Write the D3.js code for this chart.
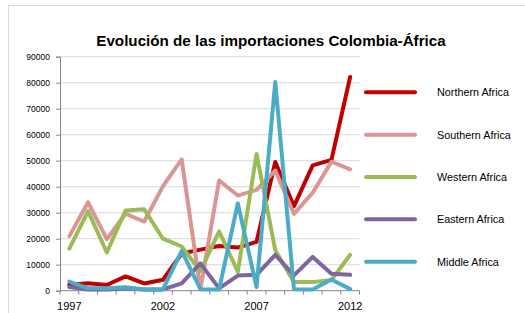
<!DOCTYPE html>
<html>
<head>
<meta charset="utf-8">
<script src="https://cdn.jsdelivr.net/npm/d3@7"></script>
<style>
  body { margin: 0; background: #fff; }
  svg { display: block; font-family: "Liberation Sans", Arial, sans-serif; }
</style>
</head>
<body>
<div id="d3"></div>
<script>
var years = ["1997","1998","1999","2000","2001","2002","2003","2004","2005","2006","2007","2008","2009","2010","2011","2012"];
var yearLabels = ["1997","2002","2007","2012"];
var yTicks = [0,10000,20000,30000,40000,50000,60000,70000,80000,90000];
var seriesNames = ["Northern Africa","Southern Africa","Western Africa","Eastern Africa","Middle Africa"];
var colors = ["#c00000","#d99694","#9bbb59","#8064a2","#4bacc6"];

var northern = [2300,2900,2200,5500,2800,4200,14300,15800,17200,16600,18800,49500,32500,48200,50300,82200];
var southern = [21000,34000,19800,29600,26600,40200,50500,500,42400,36600,38800,46200,29500,37700,49600,46700];
var western  = [16200,30600,14700,30800,31300,20000,17000,7500,22800,7300,52600,15600,3300,3300,4100,13800];
var eastern  = [1400,500,500,900,500,500,2800,10500,900,5800,6100,13800,5900,13000,6500,6100];
var middle   = [3500,900,900,1300,500,500,15300,600,500,33600,1400,80300,600,500,4300,600];

var allSeries = [northern, southern, western, eastern, middle];

var W = 525, H = 313;
var svg = d3.select("#d3").append("svg")
    .attr("width", W)
    .attr("height", H);

// chart area border
svg.append("rect")
    .attr("x", 8.5).attr("y", 5.5)
    .attr("width", 540).attr("height", 330)
    .attr("fill", "none")
    .attr("stroke", "#d9d9d9")
    .attr("stroke-width", 1);

var plotLeft = 60, plotRight = 359.5, plotTop = 56.7, plotBottom = 290.7;

var x = d3.scaleBand().domain(years).range([plotLeft, plotRight]).padding(0);
var y = d3.scaleLinear().domain([0, 90000]).range([plotBottom, plotTop]);

// gridlines
svg.append("g").selectAll("line")
    .data(yTicks.slice(1)).enter()
    .append("line")
    .attr("x1", plotLeft).attr("x2", plotRight)
    .attr("y1", function(d) { return y(d); })
    .attr("y2", function(d) { return y(d); })
    .attr("stroke", "#d9d9d9")
    .attr("stroke-width", 1);

// y axis
var yAxis = svg.append("g")
    .attr("transform", "translate(" + plotLeft + ",0)")
    .call(d3.axisLeft(y).tickValues(yTicks).tickSize(4).tickPadding(6).tickFormat(d3.format("d")));
yAxis.select(".domain").attr("stroke", "#868686");
yAxis.selectAll(".tick line").attr("stroke", "#868686");
yAxis.selectAll("text")
    .attr("font-size", "8.5px")
    .attr("font-family", "Liberation Sans, Arial, sans-serif")
    .attr("fill", "#000");

// x axis: tick marks between categories
var xAxis = svg.append("g")
    .attr("transform", "translate(0," + plotBottom + ")");
xAxis.append("line")
    .attr("x1", plotLeft).attr("x2", plotRight)
    .attr("y1", 0).attr("y2", 0)
    .attr("stroke", "#868686");
xAxis.selectAll("line.tk")
    .data(years.concat(["end"])).enter()
    .append("line")
    .attr("class", "tk")
    .attr("x1", function(d, i) { return i < years.length ? x(d) : x.range()[1]; })
    .attr("x2", function(d, i) { return i < years.length ? x(d) : x.range()[1]; })
    .attr("y1", 0).attr("y2", 4)
    .attr("stroke", "#868686");
xAxis.selectAll("text")
    .data(yearLabels).enter()
    .append("text")
    .attr("x", function(d) { return x(d) + x.bandwidth() / 2; })
    .attr("y", 19)
    .attr("text-anchor", "middle")
    .attr("font-size", "11px")
    .attr("fill", "#000")
    .text(function(d) { return d; });

// lines
var line = d3.line()
    .x(function(d, i) { return x(years[i]) + x.bandwidth() / 2; })
    .y(function(d) { return y(d); });

svg.append("g").selectAll("path")
    .data(allSeries).enter()
    .append("path")
    .attr("d", function(d) { return line(d); })
    .attr("fill", "none")
    .attr("stroke", function(d, i) { return colors[i]; })
    .attr("stroke-width", 4)
    .attr("stroke-linejoin", "round")
    .attr("stroke-linecap", "round");

// title
svg.append("text")
    .attr("x", 271)
    .attr("y", 46)
    .attr("text-anchor", "middle")
    .attr("font-size", "15.2px")
    .attr("font-weight", "bold")
    .attr("fill", "#000")
    .text("Evolución de las importaciones Colombia-África");

// legend
var ly = d3.scalePoint().domain(seriesNames).range([92.3, 261.7]);
var lg = svg.append("g").selectAll("g")
    .data(seriesNames).enter()
    .append("g")
    .attr("transform", function(d) { return "translate(0," + ly(d) + ")"; });
lg.append("line")
    .attr("x1", 366).attr("x2", 415)
    .attr("y1", 0).attr("y2", 0)
    .attr("stroke", function(d, i) { return colors[i]; })
    .attr("stroke-width", 4)
    .attr("stroke-linecap", "round");
lg.append("text")
    .attr("x", 437)
    .attr("y", 4)
    .attr("font-size", "10.8px")
    .attr("fill", "#000")
    .text(function(d) { return d; });
</script>
</body>
</html>
